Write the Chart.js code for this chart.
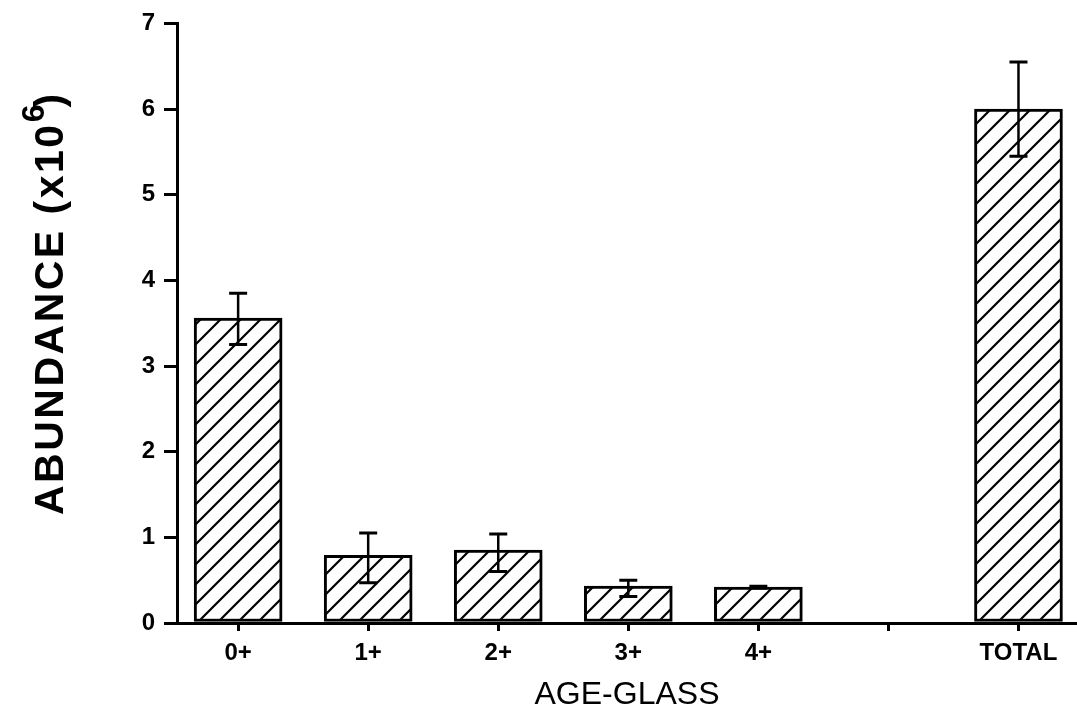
<!DOCTYPE html>
<html>
<head>
<meta charset="utf-8">
<script src="https://cdn.jsdelivr.net/npm/chart.js@4.4.1/dist/chart.umd.min.js"></script>
<style>
  html, body { margin: 0; padding: 0; background: #fff; }
  canvas { display: block; }
</style>
</head>
<body>
<canvas id="c" width="1077" height="720"></canvas>
<script>
// ---- data ----
const categories = ['0+', '1+', '2+', '3+', '4+', '', 'TOTAL'];
const abundance  = [3.56, 0.79, 0.85, 0.43, 0.42, null, 6.00];
const errUpper   = [3.85, 1.05, 1.04, 0.50, 0.43, null, 6.55];
const errLower   = [3.25, 0.47, 0.60, 0.31, 0.41, null, 5.45];
const yTicks     = [0, 1, 2, 3, 4, 5, 6, 7];
const xTitle     = 'AGE-GLASS';
const yTitleMain = 'ABUNDANCE (x10';
const yTitleSup  = '6';
const yTitleEnd  = ')';

// hatch pattern "/"
function makeHatch() {
  const s = 20;
  const p = document.createElement('canvas');
  p.width = s; p.height = s;
  const g = p.getContext('2d');
  g.fillStyle = '#fff';
  g.fillRect(0, 0, s, s);
  g.strokeStyle = '#000';
  g.lineWidth = 2.2;
  g.beginPath();
  g.moveTo(0, s); g.lineTo(s, 0);
  g.moveTo(-2, 2); g.lineTo(2, -2);
  g.moveTo(s - 2, s + 2); g.lineTo(s + 2, s - 2);
  g.stroke();
  return g.createPattern(p, 'repeat');
}

const ctx = document.getElementById('c').getContext('2d');
const hatch = makeHatch();

const errorBars = {
  id: 'errorBars',
  afterDatasetsDraw(chart) {
    const xs = chart.scales.x, ys = chart.scales.y, c = chart.ctx;
    c.save();
    c.strokeStyle = '#000';
    abundance.forEach((v, i) => {
      if (v === null) return;
      const x = xs.getPixelForValue(i);
      const yh = ys.getPixelForValue(errUpper[i]);
      const yl = ys.getPixelForValue(errLower[i]);
      c.lineWidth = 2.5;
      c.beginPath();
      c.moveTo(x, yh); c.lineTo(x, yl);
      c.stroke();
      c.lineWidth = 3;
      c.beginPath();
      c.moveTo(x - 9, yh); c.lineTo(x + 9, yh);
      c.moveTo(x - 9, yl); c.lineTo(x + 9, yl);
      c.stroke();
    });
    c.restore();
  }
};

const yTitlePlugin = {
  id: 'yTitle',
  afterDraw(chart) {
    const c = chart.ctx;
    c.save();
    c.translate(63, 515);
    c.rotate(-Math.PI / 2);
    c.fillStyle = '#000';
    c.textBaseline = 'alphabetic';
    c.textAlign = 'left';
    c.font = 'bold 41px "Liberation Sans", Arial, sans-serif';
    c.letterSpacing = '2.5px';
    c.fillText(yTitleMain, 0, 0);
    const w = c.measureText(yTitleMain).width;
    c.font = 'bold 32px "Liberation Sans", Arial, sans-serif';
    c.letterSpacing = '0px';
    c.fillText(yTitleSup, w, -19);
    const w2 = c.measureText(yTitleSup).width;
    c.font = 'bold 41px "Liberation Sans", Arial, sans-serif';
    c.fillText(yTitleEnd, w + w2 - 3, 0);
    c.restore();
  }
};

new Chart(ctx, {
  type: 'bar',
  data: {
    datasets: [{
      data: abundance.map((v, i) => ({ x: i, y: v })),
      backgroundColor: hatch,
      borderColor: '#000',
      borderWidth: 3,
      borderSkipped: false,
      barThickness: 88
    }]
  },
  options: {
    responsive: false,
    animation: false,
    events: [],
    layout: { padding: { top: 21, left: 0, right: 0, bottom: 0 } },
    plugins: { legend: { display: false }, tooltip: { enabled: false } },
    scales: {
      x: {
        type: 'linear',
        offset: false,
        min: -0.47,
        max: 6.45,
        afterBuildTicks: s => { s.ticks = categories.map((c, i) => ({ value: i })); },
        afterFit: s => { s.height = 97; },
        grid: { offset: false, drawOnChartArea: false, drawTicks: true, tickLength: 8, lineWidth: 3, color: '#000' },
        border: { display: true, color: '#000', width: 3 },
        ticks: {
          autoSkip: false, maxRotation: 0, padding: 8, color: '#000',
          font: { family: '"Liberation Sans", Arial, sans-serif', size: 24, weight: 'bold' },
          callback: v => (Number.isInteger(v) ? categories[v] : '')
        },
        title: {
          display: true, text: xTitle, color: '#000',
          font: { family: '"Liberation Sans", Arial, sans-serif', size: 32, weight: 'normal' },
          padding: { top: 0, bottom: 6 }
        }
      },
      y: {
        min: 0,
        max: 7,
        afterBuildTicks: s => { s.ticks = yTicks.map(v => ({ value: v })); },
        afterFit: s => { s.width = 177; },
        grid: { drawOnChartArea: false, drawTicks: true, tickLength: 13, lineWidth: 3, color: '#000' },
        border: { display: true, color: '#000', width: 3 },
        ticks: {
          padding: 9, color: '#000',
          font: { family: '"Liberation Sans", Arial, sans-serif', size: 24, weight: 'bold' }
        }
      }
    }
  },
  plugins: [errorBars, yTitlePlugin]
});
</script>
</body>
</html>
